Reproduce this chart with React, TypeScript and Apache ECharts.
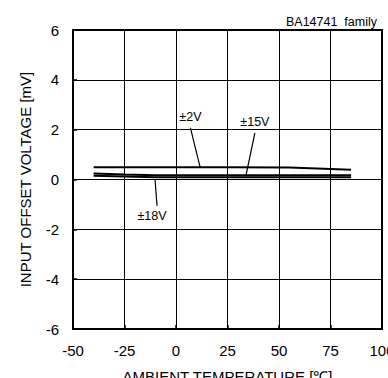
import React, { useEffect, useRef } from "react";
import * as echarts from "echarts";

const FONT = "'Liberation Sans', Arial, sans-serif";

const xTicks = [-50, -25, 0, 25, 50, 75, 100];
const yTicks = [-6, -4, -2, 0, 2, 4, 6];

const v2: [number, number][] = [[-40, 0.49], [0, 0.49], [25, 0.49], [55, 0.48], [85, 0.39]];
const v15: [number, number][] = [[-40, 0.24], [-25, 0.2], [-10, 0.17], [25, 0.17], [50, 0.17], [85, 0.17]];
const v18: [number, number][] = [[-40, 0.15], [-25, 0.12], [-10, 0.09], [25, 0.09], [50, 0.09], [85, 0.09]];

const lead2: [number, number][] = [[7, 2.07], [11.7, 0.5]];
const lead15: [number, number][] = [[38.3, 1.87], [34, 0.18]];
const lead18: [number, number][] = [[-10.2, 0.02], [-9.2, -1.06]];

const labels = ["±2V", "±15V", "±18V"];

export default function App() {
  const ref = useRef<HTMLDivElement>(null);
  useEffect(() => {
    if (!ref.current) return;
    const chart = echarts.init(ref.current, undefined, { renderer: "svg" });
    const dataLine = (d: [number, number][]) => ({
      type: "line",
      data: d,
      showSymbol: false,
      symbol: "none",
      lineStyle: { color: "#000", width: 2 },
      z: 5,
    });
    const leader = (d: [number, number][], label: string, idx: number, pos: string, off: number[]) => ({
      type: "line",
      data: d.map((p, i) =>
        i === idx
          ? {
              value: p,
              label: {
                show: true,
                position: pos,
                distance: 4,
                offset: off,
                formatter: label,
                color: "#000",
                fontSize: 12.5,
                fontFamily: FONT,
              },
            }
          : { value: p }
      ),
      symbol: "circle",
      symbolSize: 0.1,
      showSymbol: true,
      itemStyle: { color: "transparent" },
      lineStyle: { color: "#000", width: 1.2 },
      z: 6,
    });
    chart.setOption({
      animation: false,
      title: {
        text: "BA14741  family",
        right: 6,
        top: 10,
        textStyle: { fontSize: 12.5, fontWeight: "normal", color: "#000", fontFamily: FONT },
      },
      grid: {
        left: 73,
        right: 6,
        top: 30,
        bottom: 49,
        show: true,
        borderColor: "#000",
        borderWidth: 2,
        containLabel: false,
        outerBoundsMode: "none",
      },
      xAxis: {
        type: "value",
        min: xTicks[0],
        max: xTicks[xTicks.length - 1],
        interval: 25,
        name: "AMBIENT TEMPERATURE [℃]",
        nameLocation: "middle",
        nameGap: 40,
        nameTextStyle: { fontSize: 15, color: "#000", fontFamily: FONT },
        axisLine: { show: true, onZero: false, lineStyle: { color: "#000", width: 2 } },
        axisTick: { show: true, inside: true, length: 4, lineStyle: { color: "#000", width: 1.5 } },
        axisLabel: { fontSize: 15, color: "#000", margin: 14, fontFamily: FONT },
        splitLine: { show: true, lineStyle: { color: "#000", width: 1 } },
      },
      yAxis: {
        type: "value",
        min: yTicks[0],
        max: yTicks[yTicks.length - 1],
        interval: 2,
        name: "INPUT OFFSET VOLTAGE [mV]",
        nameLocation: "middle",
        nameGap: 40,
        nameTextStyle: { fontSize: 15, color: "#000", fontFamily: FONT },
        axisLine: { show: true, onZero: false, lineStyle: { color: "#000", width: 2 } },
        axisTick: { show: true, inside: true, length: 4, lineStyle: { color: "#000", width: 1.5 } },
        axisLabel: { fontSize: 15, color: "#000", margin: 14, fontFamily: FONT },
        splitLine: { show: true, lineStyle: { color: "#000", width: 1 } },
      },
      series: [
        dataLine(v2),
        dataLine(v15),
        dataLine(v18),
        leader(lead2, labels[0], 0, "top", [0, 0]),
        leader(lead15, labels[1], 0, "top", [0, 0]),
        leader(lead18, labels[2], 1, "bottom", [-5, 0]),
      ],
    });
    return () => chart.dispose();
  }, []);
  return <div ref={ref} style={{ width: 388, height: 378, position: "absolute", left: 0, top: 0 }} />;
}
